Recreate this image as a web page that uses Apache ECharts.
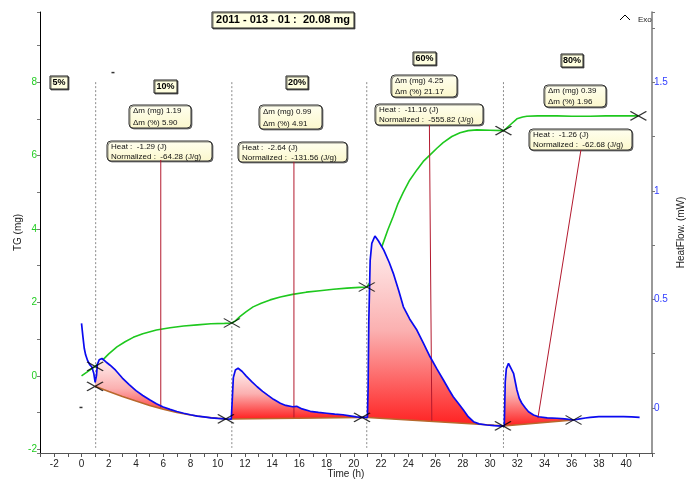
<!DOCTYPE html>
<html>
<head>
<meta charset="utf-8">
<script src="https://cdn.jsdelivr.net/npm/echarts@6/dist/echarts.min.js"></script>
<style>
  html, body { margin: 0; padding: 0; background: #fff; }
  #main { width: 686px; height: 479px; }
</style>
</head>
<body>
<div id="main"></div>
<script>
// Heat flow signal, [time (h), mW]
const heatFlow = [
  [0.0, 0.39], [0.1, 0.33], [0.2, 0.275], [0.3, 0.245], [0.45, 0.218], [0.6, 0.2], [0.75, 0.19],
  [0.9, 0.16], [1.0, 0.118], [1.05, 0.11], [1.1, 0.15], [1.16, 0.2], [1.3, 0.222], [1.5, 0.228],
  [1.8, 0.212], [2.1, 0.197], [2.5, 0.174], [3.0, 0.138], [3.5, 0.108], [4.0, 0.08], [4.5, 0.058],
  [5.0, 0.038], [5.5, 0.02], [6.0, 0.005], [6.5, -0.006], [7.0, -0.016], [7.5, -0.024], [8.0, -0.031],
  [8.5, -0.037], [9.0, -0.041], [9.5, -0.045], [10.0, -0.048], [10.5, -0.05], [11.0, -0.051],
  [11.04, -0.048], [11.08, 0.05], [11.15, 0.14], [11.3, 0.175], [11.5, 0.183], [11.8, 0.168],
  [12.1, 0.147], [12.5, 0.122], [12.9, 0.098], [13.3, 0.077], [13.7, 0.058], [14.1, 0.04],
  [14.6, 0.022], [15.0, 0.012], [15.5, 0.006], [15.8, 0.008], [16.2, -0.004], [16.8, -0.015],
  [17.4, -0.02], [18.0, -0.024], [18.6, -0.028], [19.2, -0.031], [19.7, -0.036], [20.2, -0.041],
  [20.6, -0.043], [21.0, -0.043], [21.05, 0.1], [21.1, 0.4], [21.2, 0.68], [21.32, 0.758],
  [21.55, 0.792], [21.8, 0.77], [22.2, 0.727], [22.6, 0.67], [22.9, 0.62], [23.3, 0.54],
  [23.64, 0.466], [24.1, 0.41], [24.63, 0.359], [25.1, 0.3], [25.6, 0.236], [26.1, 0.18],
  [26.58, 0.129], [27.0, 0.083], [27.3, 0.052], [27.7, 0.02], [28.05, -0.009], [28.4, -0.04],
  [28.79, -0.063], [29.2, -0.073], [29.77, -0.078], [30.3, -0.081], [30.9, -0.083], [31.05, -0.083],
  [31.08, 0.0], [31.12, 0.12], [31.2, 0.18], [31.36, 0.206], [31.5, 0.2], [31.73, 0.16],
  [31.98, 0.083], [32.15, 0.045], [32.34, 0.022], [32.6, 0.0], [32.83, -0.017], [33.2, -0.032],
  [33.57, -0.04], [34.2, -0.045], [34.92, -0.047], [35.5, -0.05], [36.14, -0.055], [36.6, -0.05],
  [37.0, -0.046], [37.36, -0.043], [38.0, -0.04], [38.59, -0.04], [39.2, -0.039], [39.81, -0.04],
  [40.4, -0.041], [40.99, -0.043]
];

// Thermogravimetric mass gain, [time (h), mg]
const massTG = [
  [0, 0.0], [0.5, 0.13], [1.0, 0.26], [1.3, 0.36], [1.6, 0.45], [2.0, 0.6], [2.6, 0.79], [3.2, 0.93],
  [3.8, 1.05], [4.5, 1.15], [5.5, 1.25], [6.5, 1.31], [7.5, 1.36], [8.5, 1.39], [9.5, 1.42],
  [10.5, 1.43], [11.04, 1.44], [11.3, 1.5], [11.65, 1.62], [12.1, 1.75], [12.6, 1.88], [13.2, 1.98],
  [13.85, 2.07], [14.6, 2.15], [15.5, 2.22], [16.5, 2.28], [17.5, 2.32], [18.5, 2.36], [19.5, 2.39],
  [20.4, 2.41], [20.95, 2.42], [21.2, 2.55], [21.5, 2.85], [21.8, 3.2], [22.06, 3.52], [22.5, 3.98],
  [22.89, 4.34], [23.25, 4.7], [23.62, 4.99], [24.1, 5.33], [24.63, 5.61], [25.1, 5.84], [25.6, 6.02],
  [26.1, 6.2], [26.56, 6.35], [27.2, 6.52], [27.8, 6.62], [28.4, 6.68], [29.04, 6.7], [30.0, 6.69],
  [30.99, 6.68], [31.2, 6.74], [31.49, 6.84], [31.98, 7.0], [32.4, 7.05], [32.71, 7.07], [33.5, 7.08],
  [34.92, 7.08], [36.0, 7.07], [37.36, 7.07], [38.5, 7.08], [39.81, 7.08], [40.9, 7.08]
];

// Integration baselines under each exotherm, [time (h), mW]
const baseline1 = [[0.99, 0.1], [2, 0.076], [3, 0.053], [4, 0.032], [5, 0.012], [6, -0.006],
                   [7, -0.021], [8, -0.032], [9, -0.041], [10.6, -0.05]];
const baseline2 = [[11.04, -0.051], [20.6, -0.044]];
const baseline3 = [[20.7, -0.042], [30.95, -0.082]];
const baseline4 = [[31.0, -0.083], [36.14, -0.055]];

// Step limits picked on each curve
const tgMarkers = [[1.0, 0.26], [11.04, 1.44], [20.95, 2.42], [30.99, 6.68], [40.9, 7.08]];
const heatMarkers = [[0.99, 0.1], [10.6, -0.05], [20.6, -0.043], [30.95, -0.082], [36.14, -0.055]];

// Humidity step changes (h)
const stepTimes = [1.04, 11.04, 20.95, 30.99];

// Leader lines from the heat boxes to the peaks, [time (h), mW]
const leaders = [
  [[5.82, 1.142], [5.82, -0.005]],
  [[15.6, 1.133], [15.6, -0.048]],
  [[25.55, 1.303], [25.73, -0.061]],
  [[36.68, 1.188], [33.52, -0.047]]
];

// Stray marks on the plot, [time (h), mg]
const strayMarks = [[2.31, 8.26], [-0.04, -0.86]];

// Annotation texts
const sampleTitle = '2011 - 013 - 01 :  20.08 mg';
const stageLabels = ['5%', '10%', '20%', '60%', '80%'];
const deltaMg = ['1.19', '0.99', '4.25', '0.39'];
const deltaPct = ['5.90', '4.91', '21.17', '1.96'];
const heatJ = ['-1.29', '-2.64', '-11.16', '-1.26'];
const heatNorm = ['-64.28', '-131.56', '-555.82', '-62.68'];

const FONT = '"Liberation Sans", Arial, sans-serif';

function interp(series, t) {
  for (let i = 1; i < series.length; i++) {
    const a = series[i - 1], b = series[i];
    if (t <= b[0]) {
      const f = (t - a[0]) / (b[0] - a[0] || 1);
      return a[1] + f * (b[1] - a[1]);
    }
  }
  return series[series.length - 1][1];
}

// Polygon between heat flow and its baseline, in data space
function areaPolygon(base) {
  const t0 = base[0][0], t1 = base[base.length - 1][0];
  const pts = [[t0, interp(heatFlow, t0)]];
  heatFlow.forEach(p => { if (p[0] > t0 && p[0] < t1) pts.push(p); });
  pts.push([t1, interp(heatFlow, t1)]);
  for (let i = base.length - 1; i >= 0; i--) pts.push(base[i]);
  return pts;
}

const fillGradient = () => new echarts.graphic.LinearGradient(0, 0, 0, 1, [
  { offset: 0, color: '#fff3f3' },
  { offset: 0.5, color: '#fbb0b0' },
  { offset: 1, color: '#ff2020' }
]);

function fillSeries(base) {
  const poly = areaPolygon(base);
  return {
    type: 'custom',
    xAxisIndex: 0, yAxisIndex: 1,
    data: [base[0]],
    silent: true,
    z: 3,
    renderItem: (params, api) => ({
      type: 'polygon',
      shape: { points: poly.map(p => api.coord(p)) },
      style: { fill: fillGradient(), stroke: null }
    })
  };
}

function lineSeries(data, yIdx, color, width, z, extra) {
  return Object.assign({
    type: 'line', data, xAxisIndex: 0, yAxisIndex: yIdx,
    showSymbol: false, symbol: 'none', silent: true, z,
    lineStyle: { color, width }
  }, extra || {});
}

const crossSymbol = 'path://M0,0L16,9M0,9L16,0';
function markerSeries(data, yIdx) {
  return {
    type: 'scatter', data, xAxisIndex: 0, yAxisIndex: yIdx,
    symbol: crossSymbol, symbolSize: [16, 9], silent: true, z: 8,
    itemStyle: { color: 'rgba(0,0,0,0)', borderColor: '#000', borderWidth: 1.3 }
  };
}

const series = [];
stepTimes.forEach(t => series.push(lineSeries([[t, 8], [t, -1.96]], 0, '#8a8a8a', 1, 1,
  { lineStyle: { color: '#8a8a8a', width: 1, type: [2, 2] } })));
series.push(lineSeries(massTG, 0, '#1ec81e', 1.6, 2));
[baseline1, baseline2, baseline3, baseline4].forEach(b => series.push(fillSeries(b)));
leaders.forEach(l => series.push(lineSeries(l, 1, '#b3192e', 1, 4)));
[baseline1, baseline2, baseline3, baseline4].forEach(b => series.push(lineSeries(b, 1, '#b8682c', 1.5, 5)));
series.push(lineSeries(heatFlow, 1, '#0a0af0', 1.7, 6));
series.push(markerSeries(tgMarkers, 0));
series.push(markerSeries(heatMarkers, 1));
series.push({
  type: 'scatter', data: strayMarks, xAxisIndex: 0, yAxisIndex: 0,
  symbol: 'rect', symbolSize: [3, 1.5], silent: true, z: 8, itemStyle: { color: '#000' }
});

// Boxed annotations
function plainBox(x, y, w, h, text, fontSize) {
  return {
    type: 'group', x, y, silent: true, z: 20,
    children: [
      { type: 'rect', shape: { x: 0, y: 0, width: w, height: h },
        style: { fill: '#ffffe0', stroke: '#222', lineWidth: 1,
                 shadowColor: 'rgba(0,0,0,0.55)', shadowOffsetX: 1, shadowOffsetY: 1, shadowBlur: 0 } },
      { type: 'text', x: w / 2, y: h / 2,
        style: { text, font: `bold ${fontSize}px ${FONT}`, fill: '#000', align: 'center', verticalAlign: 'middle' } }
    ]
  };
}
function roundBox(x, y, w, h, lines) {
  const children = [
    { type: 'rect', shape: { x: 0, y: 0, width: w, height: h, r: 4 },
      style: { fill: new echarts.graphic.LinearGradient(0, 0, 0, 1, [
                 { offset: 0, color: '#fffff0' }, { offset: 1, color: '#fbf7cc' }]),
               stroke: '#333', lineWidth: 1,
               shadowColor: 'rgba(0,0,0,0.45)', shadowOffsetX: 1, shadowOffsetY: 1, shadowBlur: 0 } }
  ];
  const step = h / lines.length;
  lines.forEach((s, i) => children.push({
    type: 'text', x: 4, y: step * (i + 0.5) + 0.5,
    style: { text: s, font: `8px ${FONT}`, fill: '#111', align: 'left', verticalAlign: 'middle' }
  }));
  return { type: 'group', x, y, silent: true, z: 20, children };
}

const stageBoxPos = [[50, 76, 18, 13], [154, 80, 23, 13], [286, 76, 22, 13], [413, 52, 23, 13], [561, 54, 22, 13]];
const massBoxPos = [[129, 105, 62, 23], [259, 105, 63, 24], [391, 75, 66, 22], [544, 85, 62, 22]];
const heatBoxPos = [[107, 141, 105, 20], [238, 142, 109, 20], [375, 104, 108, 21], [529, 129, 103, 21]];

const graphics = [plainBox(212, 12, 142, 16, sampleTitle, 11)];
stageLabels.forEach((s, i) => graphics.push(plainBox(...stageBoxPos[i], s, 9)));
deltaMg.forEach((v, i) => graphics.push(roundBox(...massBoxPos[i],
  [`\u0394m (mg) ${v}`, `\u0394m (%) ${deltaPct[i]}`])));
heatJ.forEach((v, i) => graphics.push(roundBox(...heatBoxPos[i],
  [`Heat :  ${v} (J)`, `Normalized :  ${heatNorm[i]} (J/g)`])));
// Exo direction marker
graphics.push({ type: 'polyline', silent: true, z: 20,
  shape: { points: [[620, 20], [625, 15], [630, 20]] }, style: { stroke: '#000', lineWidth: 1, fill: null } });
graphics.push({ type: 'text', x: 638, y: 20, silent: true, z: 20,
  style: { text: 'Exo', font: `8px ${FONT}`, fill: '#222', verticalAlign: 'middle' } });

const evenLabel = v => { const r = Math.round(v); return (Math.abs(v - r) < 1e-6 && r % 2 === 0) ? String(r) : ''; };
const halfLabel = v => { const r = Math.round(v * 2) / 2; return Math.abs(v - r) < 1e-6 ? String(r) : ''; };

const option = {
  animation: false,
  backgroundColor: '#fff',
  textStyle: { fontFamily: FONT },
  grid: { left: 40, right: 34, top: 12, bottom: 26, containLabel: false, outerBoundsMode: 'none' },
  xAxis: {
    type: 'value', min: -3.05, max: 41.9, minInterval: 1, maxInterval: 1,
    name: 'Time (h)', nameLocation: 'middle', nameGap: 16, nameMoveOverlap: false,
    nameTextStyle: { fontSize: 10, color: '#222', fontFamily: FONT },
    axisLine: { show: true, onZero: false, lineStyle: { color: '#555', width: 1 } },
    axisTick: { show: true, length: 4, lineStyle: { color: '#555' } },
    axisLabel: { formatter: evenLabel, color: '#222', fontSize: 10, margin: 6, fontFamily: FONT },
    splitLine: { show: false }
  },
  yAxis: [
    {
      type: 'value', position: 'left', min: -2.1, max: 9.91, minInterval: 1, maxInterval: 1,
      name: 'TG (mg)', nameLocation: 'middle', nameRotate: 90, nameGap: 17, nameMoveOverlap: false,
      nameTextStyle: { fontSize: 10, color: '#222', fontFamily: FONT },
      axisLine: { show: true, onZero: false, lineStyle: { color: '#000', width: 1 } },
      axisTick: { show: true, length: 3, lineStyle: { color: '#777' } },
      axisLabel: { formatter: evenLabel, color: '#22cc22', fontSize: 10, margin: 3, fontFamily: FONT },
      splitLine: { show: false }
    },
    {
      type: 'value', position: 'right', min: -0.207, max: 1.823, minInterval: 0.25, maxInterval: 0.25,
      name: 'HeatFlow. (mW)', nameLocation: 'middle', nameRotate: 90, nameGap: 24, nameMoveOverlap: false,
      nameTextStyle: { fontSize: 10, color: '#222', fontFamily: FONT },
      axisLine: { show: true, onZero: false, lineStyle: { color: '#777', width: 1.5 } },
      axisTick: { show: true, length: 3, lineStyle: { color: '#777' } },
      axisLabel: { formatter: halfLabel, color: '#3340ff', fontSize: 10, margin: 2, fontFamily: FONT },
      splitLine: { show: false }
    }
  ],
  series,
  graphic: graphics
};

const chart = echarts.init(document.getElementById('main'), null, { renderer: 'canvas' });
chart.setOption(option);
</script>
</body>
</html>
